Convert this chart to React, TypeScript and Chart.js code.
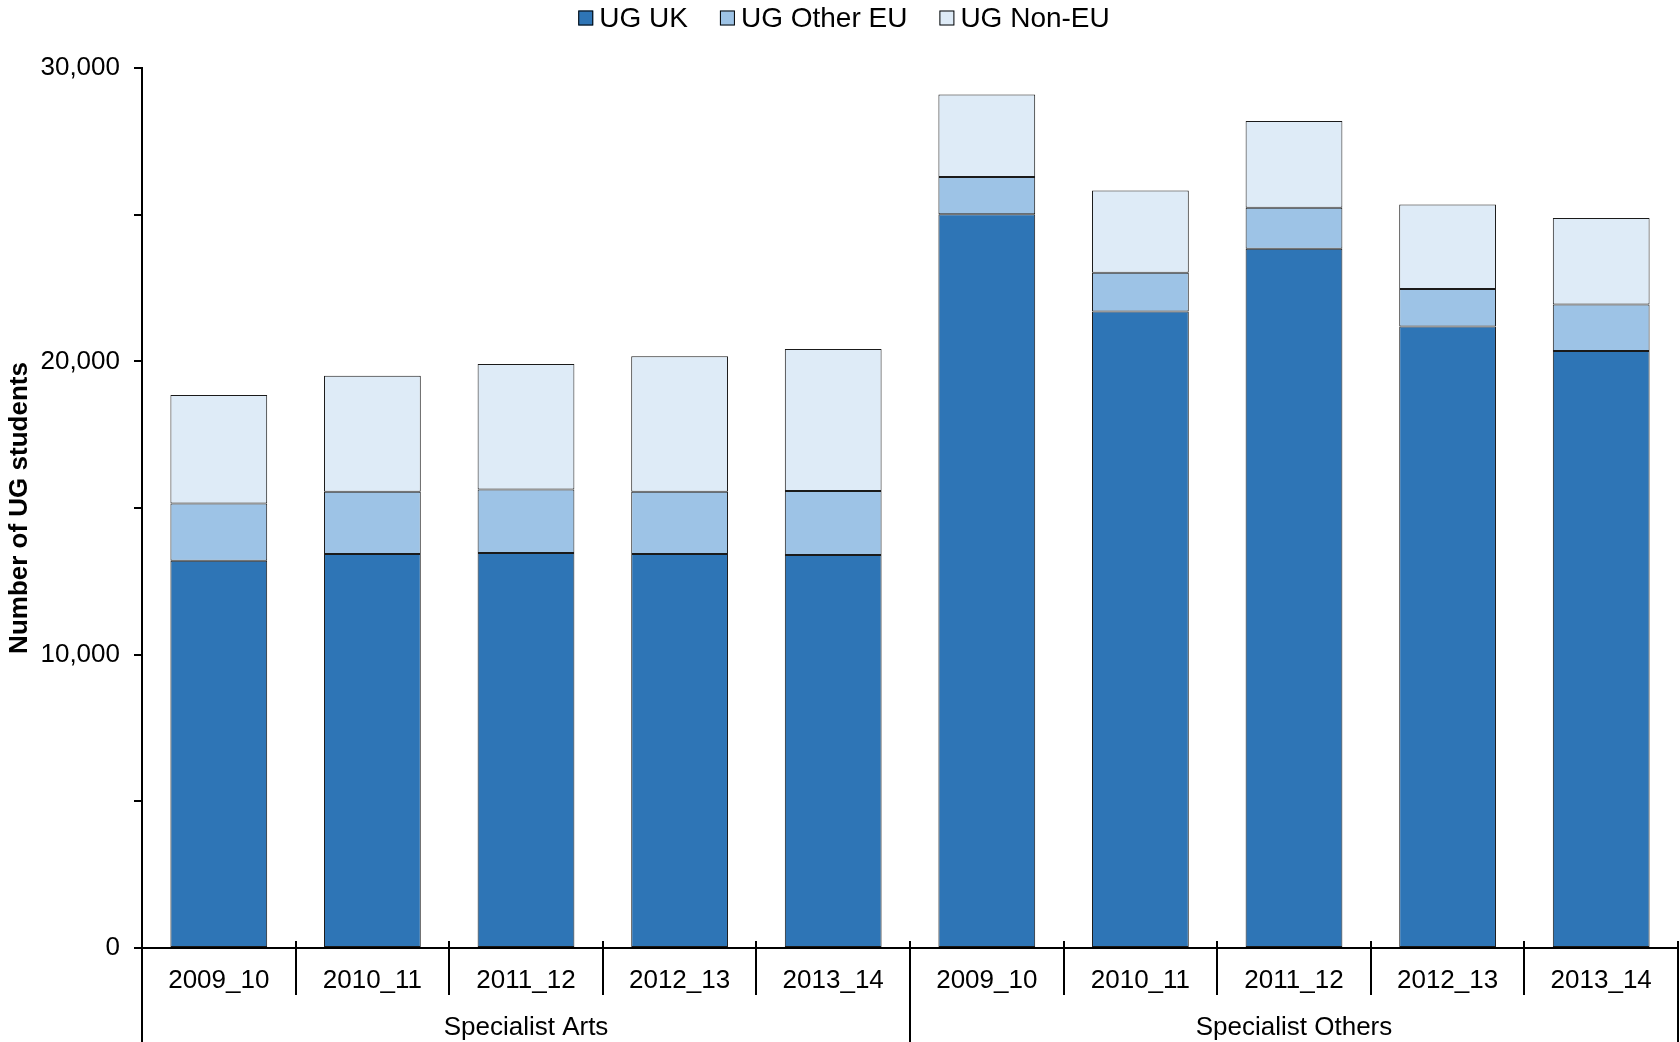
import React, { useEffect, useRef } from "react";
import { Chart, registerables } from "chart.js";

Chart.register(...registerables);

const categories = ["2009_10", "2010_11", "2011_12", "2012_13", "2013_14", "2009_10", "2010_11", "2011_12", "2012_13", "2013_14"];
const groupLabels = ["Specialist Arts", "Specialist Others"];
const groupSizes = [5, 5];
const seriesNames = ["UG UK", "UG Other EU", "UG Non-EU"];
const ugUK = [13200, 13430, 13470, 13430, 13400, 25010, 21700, 23840, 21190, 20350];
const ugOtherEU = [1950, 2120, 2160, 2120, 2180, 1270, 1320, 1400, 1280, 1590];
const ugNonEU = [3700, 3960, 4280, 4620, 4840, 2820, 2800, 2950, 2880, 2950];
const seriesColors = ["#2E75B6", "#9DC3E6", "#DEEBF7"];
const yTickValues = [0, 10000, 20000, 30000];

const FONT = "'Liberation Sans', Arial, sans-serif";

const groupAxisPlugin = {
  id: "groupAxis",
  afterDraw(chart: any) {
    const ctx = chart.ctx;
    const x = chart.scales.x;
    const area = chart.chartArea;
    const n = categories.length;
    const catW = (x.getPixelForValue(1) - x.getPixelForValue(0));
    const axisY = area.bottom;
    ctx.save();
    ctx.strokeStyle = "#000";
    ctx.lineWidth = 2;
    const groupStarts: number[] = [];
    let acc = 0;
    for (const s of groupSizes) { groupStarts.push(acc); acc += s; }
    const isGroupEdge = (i: number) => groupStarts.includes(i) || i === n;
    for (let i = 0; i <= n; i++) {
      const px = i < n ? x.getPixelForValue(i) - catW / 2 : x.getPixelForValue(n - 1) + catW / 2;
      const xx = Math.round(px);
      ctx.beginPath();
      ctx.moveTo(xx, axisY - 7);
      ctx.lineTo(xx, isGroupEdge(i) ? chart.height : axisY + 47);
      ctx.stroke();
    }
    ctx.fillStyle = "#000";
    ctx.font = `26px ${FONT}`;
    ctx.textAlign = "center";
    ctx.textBaseline = "middle";
    groupLabels.forEach((g, gi) => {
      const s = groupStarts[gi];
      const e = s + groupSizes[gi] - 1;
      const cx = (x.getPixelForValue(s) + x.getPixelForValue(e)) / 2;
      ctx.fillText(g, cx, 1028);
    });
    ctx.restore();
  },
};

const legendPlugin = {
  id: "customLegend",
  afterDraw(chart: any) {
    const ctx = chart.ctx;
    ctx.save();
    ctx.font = `28px ${FONT}`;
    const box = 15;
    const gapBT = 6;
    const gapItems = 32;
    const ds = chart.data.datasets;
    const widths = ds.map((d: any) => ctx.measureText(d.label).width);
    let total = 0;
    widths.forEach((w: number, i: number) => { total += box + gapBT + w + (i < widths.length - 1 ? gapItems : 0); });
    let cx = 844 - total / 2;
    const cy = 18;
    ds.forEach((d: any, i: number) => {
      ctx.fillStyle = d.backgroundColor;
      ctx.fillRect(cx, cy - box / 2, box, box);
      ctx.strokeStyle = "#000";
      ctx.lineWidth = 1;
      ctx.strokeRect(cx + 0.5, cy - box / 2 + 0.5, box - 1, box - 1);
      cx += box + gapBT;
      ctx.fillStyle = "#000";
      ctx.textAlign = "left";
      ctx.textBaseline = "middle";
      ctx.fillText(d.label, cx, cy + 1);
      cx += widths[i] + gapItems;
    });
    ctx.restore();
  },
};

export default function App() {
  const ref = useRef<HTMLCanvasElement | null>(null);
  useEffect(() => {
    if (!ref.current) return;
    const values = [ugUK, ugOtherEU, ugNonEU];
    const chart = new Chart(ref.current, {
      type: "bar",
      data: {
        labels: categories,
        datasets: seriesNames.map((name, i) => ({
          label: name,
          data: values[i],
          backgroundColor: seriesColors[i],
          borderColor: "#1a1a1a",
          borderWidth: 1,
          borderSkipped: false,
          barPercentage: 0.63,
          categoryPercentage: 1,
        })),
      },
      options: {
        responsive: false,
        animation: false,
        devicePixelRatio: 1,
        layout: { padding: { top: 68, right: 2, left: 0, bottom: 0 } },
        plugins: { legend: { display: false }, tooltip: { enabled: false } },
        scales: {
          x: {
            stacked: true,
            grid: { display: false, drawTicks: false },
            border: { display: true, color: "#000", width: 2 },
            ticks: { color: "#000", font: { family: FONT, size: 26 }, padding: 17, maxRotation: 0, autoSkip: false },
            afterFit: (s: any) => { s.height = 94; },
          },
          y: {
            stacked: true,
            min: 0,
            max: 30000,
            grid: { drawOnChartArea: false, drawTicks: true, tickLength: 8, color: "#000", lineWidth: 2 },
            border: { display: true, color: "#000", width: 2 },
            ticks: {
              stepSize: 5000,
              color: "#000",
              font: { family: FONT, size: 26 },
              padding: 14,
              callback: (v: any) => (yTickValues.includes(Number(v)) ? Number(v).toLocaleString("en-US") : ""),
            },
            title: { display: true, text: "Number of UG students", color: "#000", font: { family: FONT, size: 26, weight: "bold" }, padding: { top: 4, bottom: 0 } },
            afterFit: (s: any) => { s.width = 142; },
          },
        },
      },
      plugins: [groupAxisPlugin, legendPlugin],
    });
    return () => chart.destroy();
  }, []);
  return (
    <div style={{ position: "absolute", left: 0, top: 0, width: 1680, height: 1042, background: "#fff" }}>
      <canvas ref={ref} width={1680} height={1042} style={{ display: "block" }} />
    </div>
  );
}
